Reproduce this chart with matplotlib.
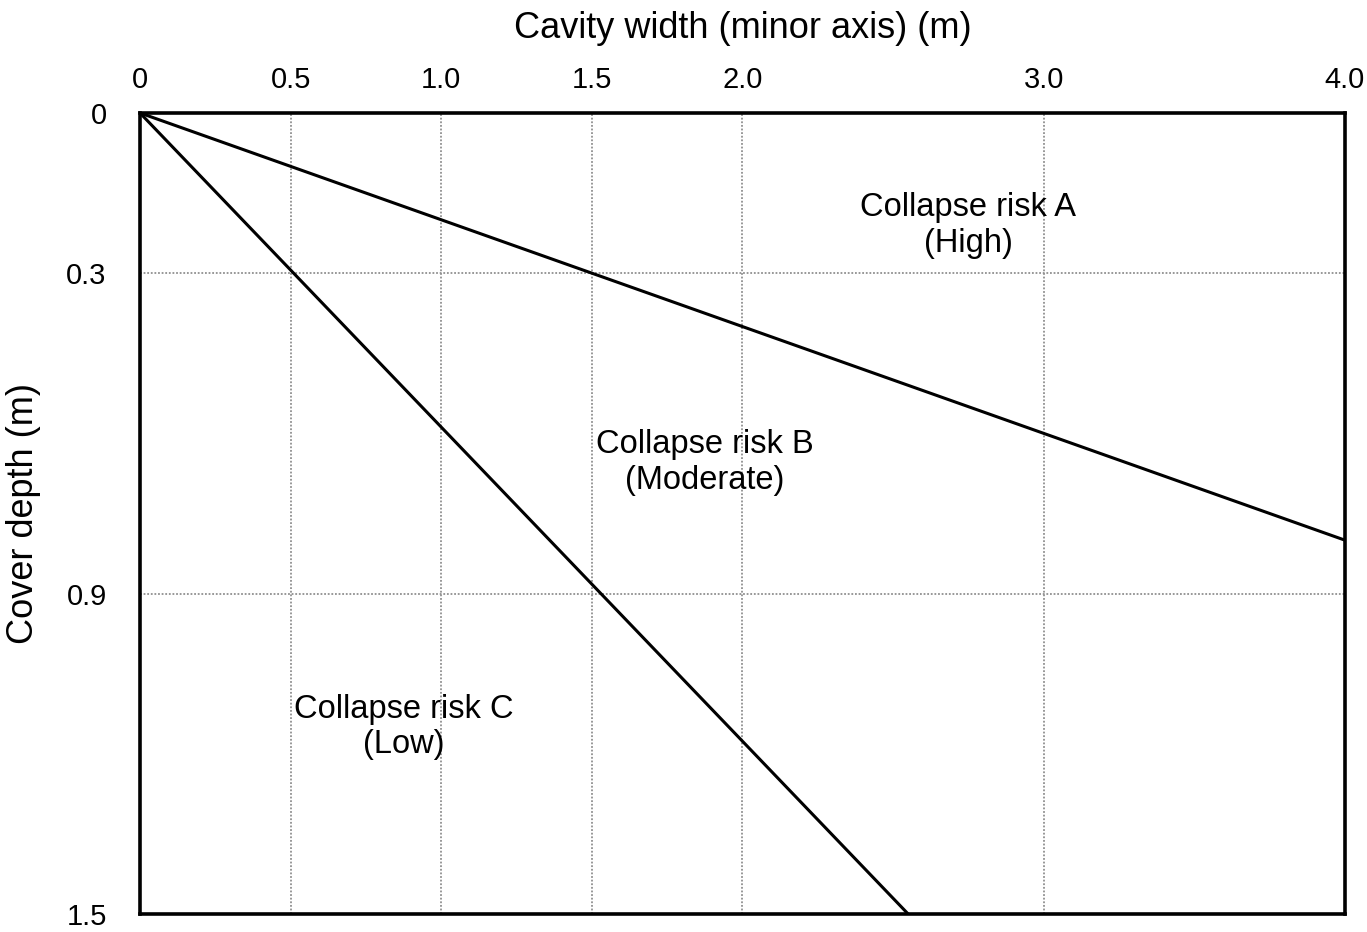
import matplotlib.pyplot as plt

plt.rcParams['font.family'] = ['Liberation Sans', 'DejaVu Sans']

# boundary lines between risk zones (cavity width, cover depth)
line_a_x = [0, 4.0]
line_a_y = [0, 0.8]
line_b_x = [0, 2.55]
line_b_y = [0, 1.5]

x_ticks = [0, 0.5, 1.0, 1.5, 2.0, 3.0, 4.0]
x_labels = ['0', '0.5', '1.0', '1.5', '2.0', '3.0', '4.0']
y_ticks = [0, 0.3, 0.9, 1.5]
y_labels = ['0', '0.3', '0.9', '1.5']

zone_labels = ['Collapse risk A\n(High)', 'Collapse risk B\n(Moderate)', 'Collapse risk C\n(Low)']
zone_x = [2.75, 1.875, 0.875]
zone_y = [0.21, 0.655, 1.15]

fig = plt.figure(figsize=(13.67, 9.32), dpi=100)
ax = fig.add_axes([0.1024, 0.0193, 0.8815, 0.8595])

ax.plot(line_a_x, line_a_y, color='black', lw=2.2, solid_capstyle='butt')
ax.plot(line_b_x, line_b_y, color='black', lw=2.2, solid_capstyle='butt')

ax.set_xlim(0, 4.0)
ax.set_ylim(1.5, 0)

ax.xaxis.tick_top()
ax.xaxis.set_label_position('top')
ax.set_xticks(x_ticks)
ax.set_xticklabels(x_labels)
ax.set_yticks(y_ticks)
ax.set_yticklabels(y_labels)
ax.tick_params(length=0, labelsize=21)
ax.tick_params(axis='x', pad=14)
ax.tick_params(axis='y', pad=24)

ax.grid(True, color='#909090', linestyle=(0, (1, 1)), lw=1.3)

for s in ax.spines.values():
    s.set_linewidth(2.6)
    s.set_color('black')

ax.set_xlabel('Cavity width (minor axis) (m)', fontsize=26, labelpad=20)
ax.set_ylabel('Cover depth (m)', fontsize=26, labelpad=18)

for lab, x, y in zip(zone_labels, zone_x, zone_y):
    ax.text(x, y, lab, fontsize=23.5, ha='center', va='center', linespacing=1.2)

plt.savefig('out.png', dpi=100)
